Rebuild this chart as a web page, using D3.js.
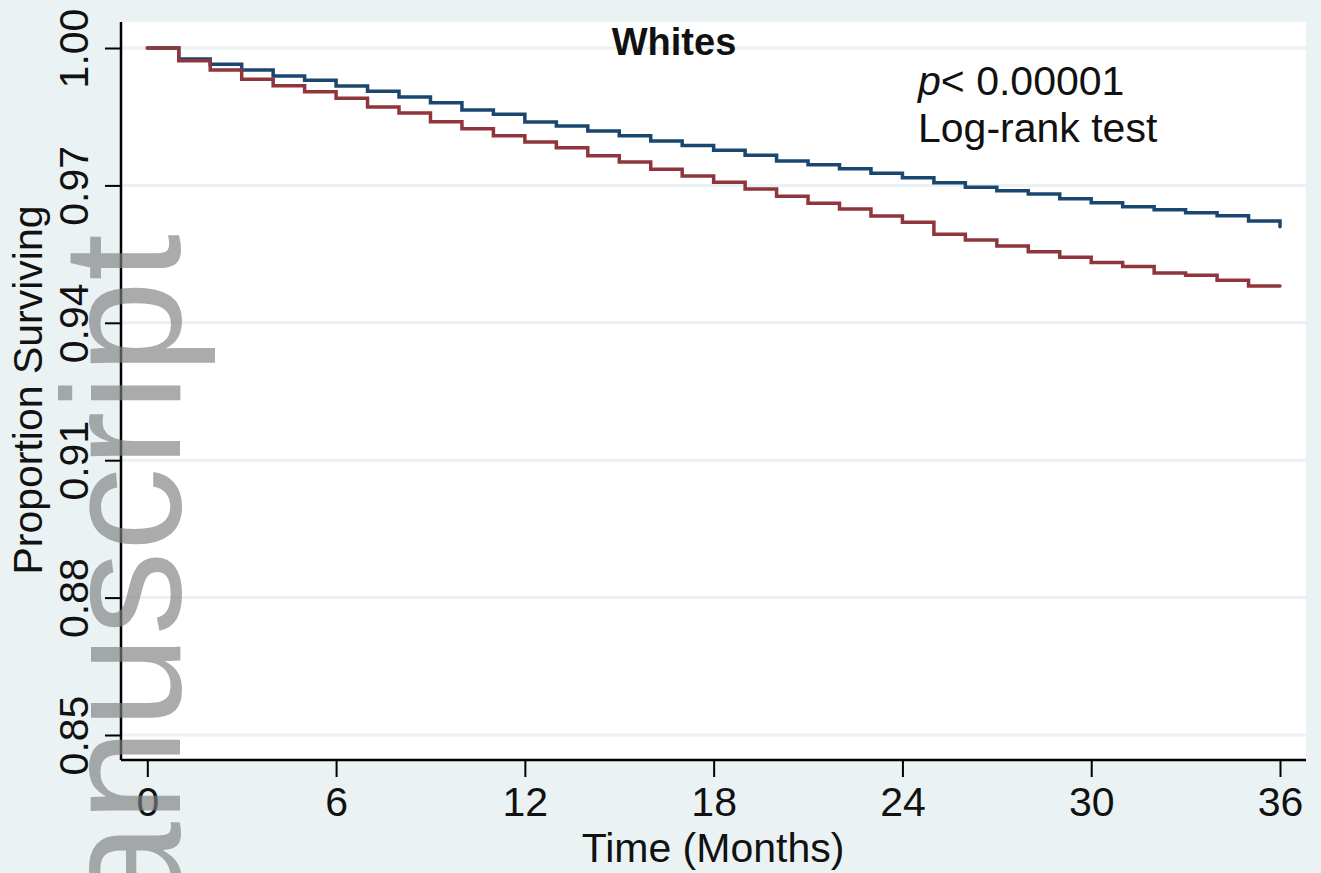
<!DOCTYPE html>
<html>
<head>
<meta charset="utf-8">
<script src="https://cdn.jsdelivr.net/npm/d3@7"></script>
<style>
  html, body { margin: 0; padding: 0; background: #eaf2f3; }
  svg { display: block; font-family: "Liberation Sans", Arial, Helvetica, sans-serif; }
</style>
</head>
<body>
<svg id="chart" width="1321" height="873"></svg>
<script>
// months 0..36
const months = d3.range(0, 37);

// survival estimates
const survBlue = [1.00000,
  0.99760, 0.99644, 0.99520, 0.99389, 0.99295, 0.99170, 0.99055, 0.98930, 0.98806, 0.98646,
  0.98552, 0.98384, 0.98297, 0.98188, 0.98085, 0.97969, 0.97871, 0.97766, 0.97657, 0.97533,
  0.97452, 0.97365, 0.97264, 0.97168, 0.97059, 0.96959, 0.96884, 0.96812, 0.96710, 0.96623,
  0.96535, 0.96469, 0.96404, 0.96338, 0.96223, 0.96098];
const survRed = [1.00000,
  0.99723, 0.99520, 0.99317, 0.99177, 0.99046, 0.98902, 0.98712, 0.98581, 0.98391, 0.98238,
  0.98085, 0.97948, 0.97823, 0.97648, 0.97511, 0.97351, 0.97205, 0.97068, 0.96921, 0.96762,
  0.96609, 0.96485, 0.96332, 0.96194, 0.95932, 0.95808, 0.95677, 0.95552, 0.95430, 0.95317,
  0.95229, 0.95087, 0.95037, 0.94928, 0.94803, 0.94803];

const xTicks = [0, 6, 12, 18, 24, 30, 36];
const yTicks = [0.85, 0.88, 0.91, 0.94, 0.97, 1.00];

const svg = d3.select("#chart");

// plot region
const plotL = 121, plotR = 1306, plotT = 22, plotB = 760;

const x = d3.scaleLinear().domain([0, 36]).range([147.3, 1280]);
const y = d3.scaleLinear().domain([0.85, 1.00]).range([735, 48]);

svg.append("rect")
  .attr("x", plotL).attr("y", plotT)
  .attr("width", plotR - plotL).attr("height", plotB - plotT)
  .attr("fill", "#ffffff");

// gridlines
svg.append("g")
  .selectAll("line")
  .data(yTicks)
  .join("line")
  .attr("x1", plotL).attr("x2", plotR)
  .attr("y1", d => y(d)).attr("y2", d => y(d))
  .attr("stroke", "#eaf2f3")
  .attr("stroke-width", 3);

// curves (red on top)
const line = d3.line()
  .x((d, i) => x(months[i]))
  .y(d => y(d))
  .curve(d3.curveStepAfter);

svg.append("path")
  .datum(survBlue)
  .attr("d", line)
  .attr("fill", "none")
  .attr("stroke", "#1a476f")
  .attr("stroke-width", 3.5)
  .attr("stroke-linecap", "round");

svg.append("path")
  .datum(survRed)
  .attr("d", line)
  .attr("fill", "none")
  .attr("stroke", "#90353b")
  .attr("stroke-width", 3.5)
  .attr("stroke-linecap", "round");

// axes
const xAxis = svg.append("g")
  .attr("transform", `translate(0,${plotB})`)
  .call(d3.axisBottom(x).tickValues(xTicks).tickSize(17).tickPadding(10).tickFormat(d3.format("d")));
xAxis.select(".domain").attr("d", `M${plotL},0H${plotR}`).attr("stroke-width", 2.5);
xAxis.selectAll(".tick line").attr("stroke-width", 2);
xAxis.selectAll(".tick text").attr("font-size", 41).attr("fill", "#111")
  .attr("font-family", "Liberation Sans, Arial, sans-serif");

const yAxis = svg.append("g")
  .attr("transform", `translate(${plotL},0)`)
  .call(d3.axisLeft(y).tickValues(yTicks).tickSize(16).tickFormat(d3.format(".2f")));
yAxis.select(".domain").attr("d", `M0,${plotT}V${plotB}`).attr("stroke-width", 2.5);
yAxis.selectAll(".tick line").attr("stroke-width", 2);
yAxis.selectAll(".tick text")
  .attr("font-size", 41).attr("fill", "#111")
  .attr("font-family", "Liberation Sans, Arial, sans-serif")
  .attr("x", null).attr("dy", null)
  .attr("text-anchor", "middle")
  .attr("transform", "translate(-33,0) rotate(-90)");

// titles
svg.append("text")
  .attr("x", 674).attr("y", 55)
  .attr("text-anchor", "middle")
  .attr("font-size", 38).attr("font-weight", "bold")
  .attr("fill", "#111")
  .text("Whites");

const ann = svg.append("text").attr("font-size", 41).attr("fill", "#111");
ann.append("tspan").attr("x", 918).attr("y", 95)
  .attr("font-style", "italic").text("p");
ann.append("tspan").text("< 0.00001");
ann.append("tspan").attr("x", 918).attr("y", 142).text("Log-rank test");

svg.append("text")
  .attr("x", 713).attr("y", 862)
  .attr("text-anchor", "middle")
  .attr("font-size", 41).attr("fill", "#111")
  .text("Time (Months)");

svg.append("text")
  .attr("transform", "translate(42,390) rotate(-90)")
  .attr("text-anchor", "middle")
  .attr("font-size", 41).attr("fill", "#111")
  .text("Proportion Surviving");

// watermark
svg.append("text")
  .attr("transform", "translate(180,234) rotate(-90)")
  .attr("text-anchor", "end")
  .attr("font-size", 168)
  .attr("fill", "#808080")
  .attr("fill-opacity", 0.66)
  .text("manuscript");
</script>
</body>
</html>
